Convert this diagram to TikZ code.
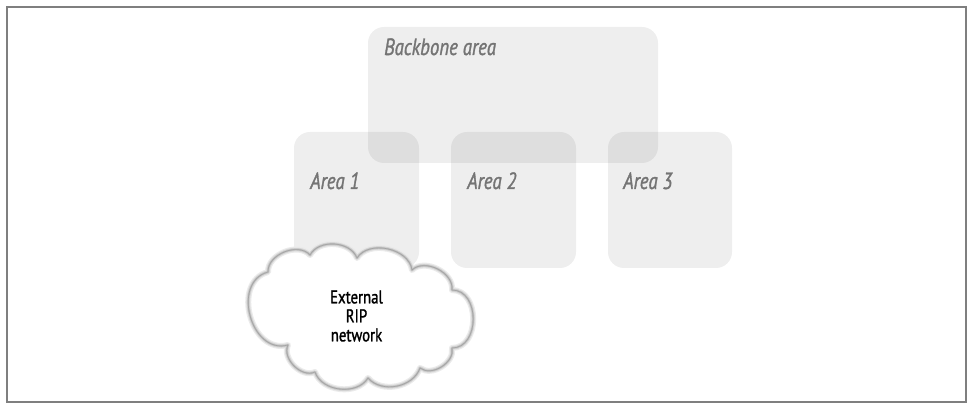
\documentclass[tikz,border=0pt]{standalone}
\usepackage{fontspec}
\newfontfamily\narrowsans{PT Sans}[FakeStretch=0.8, FakeBold=1.3]
\definecolor{framegray}{HTML}{7F7F7F}
\definecolor{labelgray}{HTML}{747474}
\tikzset{
  area/.style={fill=black, fill opacity=0.067, rounded corners=16pt, inner sep=0pt, outer sep=0pt},
  arealabel/.style={anchor=base west, inner sep=0pt, text=labelgray,
    font=\narrowsans\itshape\fontsize{23.5}{26}\selectfont},
  cloudtext/.style={align=center, inner sep=0pt,
    font=\narrowsans\fontsize{18.5}{19}\selectfont}
}
% outline of the external network cloud, clockwise on the page
\def\netcloudpath{(268,272) to[bend left=70] (310,255)
  to[bend left=65] (357,258)
  to[bend left=70] (412,270)
  to[bend left=70] (452,290)
  to[bend left=90, looseness=1.25] (452,348)
  to[bend left=70] (420,368)
  to[bend left=60] (368,378)
  to[bend left=65] (315,372)
  to[bend left=70] (288,345)
  to[bend left=90, looseness=1.3] (268,272) -- cycle}
\begin{document}
\begin{tikzpicture}[x=1pt,y=-1pt]
\useasboundingbox (0,0) rectangle (967,403);
\draw[framegray, line width=1.6pt] (7,7) rectangle (966,402);

% OSPF areas
\node[area, minimum width=290pt, minimum height=136pt] (backbone) at (513,95) {};
\node[area, minimum width=125pt, minimum height=136pt] (area1) at (356.5,200) {};
\node[area, minimum width=125pt, minimum height=136pt] (area2) at (513.5,200) {};
\node[area, minimum width=124pt, minimum height=136pt] (area3) at (670,200) {};

\node[arealabel] (backbonelabel) at (384,55) {Backbone area};
\node[arealabel] (area1label) at (310,189) {Area 1};
\node[arealabel] (area2label) at (467,189) {Area 2};
\node[arealabel] (area3label) at (623,189) {Area 3};

% external RIP cloud with a soft grey rim
\fill[white] \netcloudpath;
\draw[black!8, line width=6pt, line join=round] \netcloudpath;
\draw[black!16, line width=3.6pt, line join=round] \netcloudpath;
\draw[black!26, line width=1.8pt, line join=round] \netcloudpath;
\draw[black!36, line width=0.6pt, line join=round] \netcloudpath;
\node[cloudtext] (rip) at (356.5,316) {External\\RIP\\network};
\end{tikzpicture}
\end{document}
